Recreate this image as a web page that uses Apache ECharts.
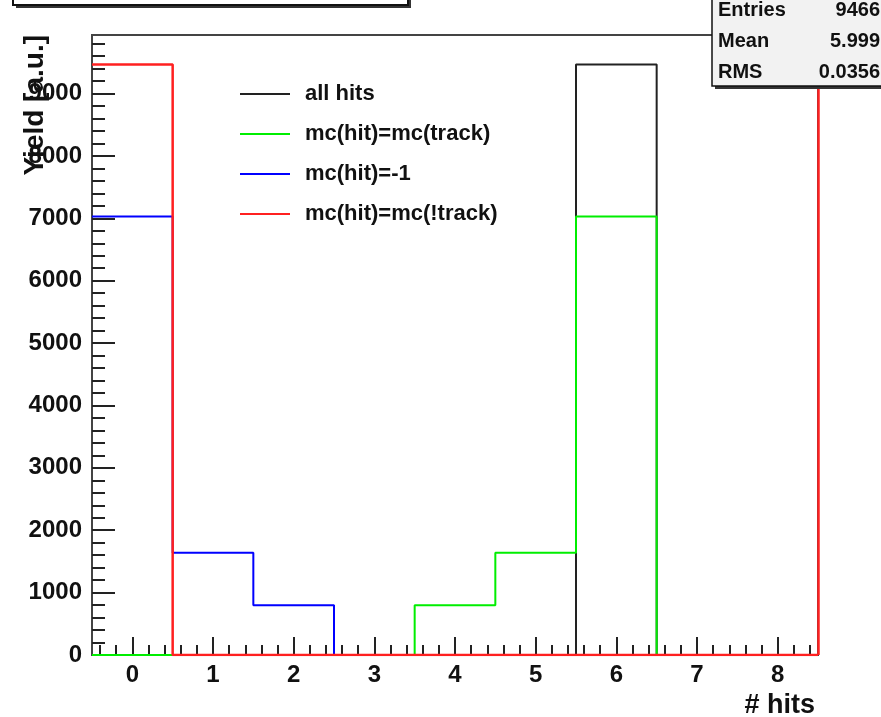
<!DOCTYPE html>
<html>
<head>
<meta charset="utf-8">
<script src="https://cdn.jsdelivr.net/npm/echarts@6/dist/echarts.min.js"></script>
<style>
html,body{margin:0;padding:0;background:#fff;}
#chart{width:881px;height:717px;}
</style>
</head>
<body>
<div id="chart"></div>
<script>
// ---- data ----
var binCenters = [0, 1, 2, 3, 4, 5, 6, 7, 8];
var allHits = [0, 0, 0, 0, 0, 0, 9466, 0, 0];
var mcTrack = [0, 0, 0, 0, 796, 1640, 7030, 0, 0];
var mcMinus1 = [7030, 1640, 796, 0, 0, 0, 0, 0, 0];
var mcNotTrack = [9466, 0, 0, 0, 0, 0, 0, 0, 0];
var seriesNames = ['all hits', 'mc(hit)=mc(track)', 'mc(hit)=-1', 'mc(hit)=mc(!track)'];
var xTickLabels = [0, 1, 2, 3, 4, 5, 6, 7, 8];
var yTickLabels = [0, 1000, 2000, 3000, 4000, 5000, 6000, 7000, 8000, 9000];
var statsLabels = ['Entries', 'Mean', 'RMS'];
var statsValues = ['9466', '5.999', '0.0356'];

var X_MIN = -0.5, X_MAX = 8.5, Y_MAX = 9939;
var FONT = '"Liberation Sans", Arial, Helvetica, sans-serif';

function stepPoints(vals) {
  var pts = [];
  for (var i = 0; i < vals.length; i++) {
    var lo = binCenters[i] - 0.5, hi = binCenters[i] + 0.5;
    pts.push([lo, vals[i]]);
    pts.push([hi, vals[i]]);
  }
  return pts;
}
var xMinor = [];
for (var k = -2; k <= 42; k++) { if (k % 5 !== 0) xMinor.push(+(k * 0.2).toFixed(2)); }
var yMinor = [];
for (var m = 1; m * 200 < Y_MAX; m++) { if (m % 5 !== 0) yMinor.push(m * 200); }

var colors = ['#222222', '#00ee00', '#0000ff', '#ff2020'];
var widths = [2, 2, 2, 2.5];
var datasets = [allHits, mcTrack, mcMinus1, mcNotTrack];

var series = datasets.map(function (d, i) {
  var s = {
    name: seriesNames[i], type: 'line', data: stepPoints(d),
    xAxisIndex: 0, yAxisIndex: 0,
    showSymbol: false, symbol: 'none', animation: false, silent: true,
    lineStyle: { color: colors[i], width: widths[i] }, itemStyle: { color: colors[i] },
    z: 3 + i
  };
  if (i === 3) {
    s.markLine = {
      symbol: 'none', silent: true, animation: false, label: { show: false },
      lineStyle: { color: colors[i], width: 2.5, type: 'solid' },
      data: [[{ coord: [X_MAX, 0] }, { coord: [X_MAX, Y_MAX] }]]
    };
  }
  return s;
});

var chart = echarts.init(document.getElementById('chart'), null, { renderer: 'canvas' });
var lblStyle = { color: '#111', fontFamily: FONT, fontWeight: 'bold', fontSize: 24,
  formatter: function (v) { return String(v); } };
chart.setOption({
  animation: false,
  backgroundColor: '#ffffff',
  grid: { left: 92, right: 63, top: 35, bottom: 62, show: true, borderColor: '#444', borderWidth: 2, containLabel: false },
  legend: {
    data: seriesNames, orient: 'vertical', left: 235, top: 78,
    icon: 'rect', itemWidth: 50, itemHeight: 2, itemGap: 18,
    selectedMode: false,
    textStyle: { color: '#111', fontFamily: FONT, fontWeight: 'bold', fontSize: 22, padding: [0, 0, 0, 10] }
  },
  xAxis: [{
    type: 'value', min: X_MIN, max: X_MAX, position: 'bottom',
    axisLine: { show: true, onZero: false, lineStyle: { color: '#444', width: 2 } },
    axisTick: { show: true, inside: true, length: 18, customValues: xTickLabels, lineStyle: { color: '#222', width: 2 } },
    axisLabel: Object.assign({ customValues: xTickLabels, margin: 8 }, lblStyle),
    splitLine: { show: false }
  }, {
    type: 'value', min: X_MIN, max: X_MAX, position: 'bottom', offset: 0,
    axisLine: { show: false, onZero: false },
    axisTick: { show: true, inside: true, length: 10, customValues: xMinor, lineStyle: { color: '#222', width: 2 } },
    axisLabel: { show: false }, splitLine: { show: false }
  }],
  yAxis: [{
    type: 'value', min: 0, max: Y_MAX, position: 'left',
    axisLine: { show: true, onZero: false, lineStyle: { color: '#444', width: 2 } },
    axisTick: { show: true, inside: true, length: 23, customValues: yTickLabels, lineStyle: { color: '#222', width: 2 } },
    axisLabel: Object.assign({ customValues: yTickLabels, margin: 10 }, lblStyle),
    splitLine: { show: false }
  }, {
    type: 'value', min: 0, max: Y_MAX, position: 'left', offset: 0,
    axisLine: { show: false, onZero: false },
    axisTick: { show: true, inside: true, length: 13, customValues: yMinor, lineStyle: { color: '#222', width: 2 } },
    axisLabel: { show: false }, splitLine: { show: false }
  }],
  series: series,
  graphic: [
    // title box (mostly off-canvas)
    { type: 'rect', shape: { x: 16, y: -40, width: 395, height: 48 }, style: { fill: '#333' }, z: 20 },
    { type: 'rect', shape: { x: 13, y: -40, width: 395, height: 45 }, style: { fill: '#fff', stroke: '#111', lineWidth: 2 }, z: 21 },
    // stats box
    { type: 'rect', shape: { x: 715, y: -20, width: 200, height: 109 }, style: { fill: '#333' }, z: 20 },
    { type: 'rect', shape: { x: 712, y: -20, width: 200, height: 106 }, style: { fill: '#f2f2f2', stroke: '#111', lineWidth: 1.5 }, z: 21 }
  ].concat(statsLabels.map(function (t, i) {
    return { type: 'text', x: 718, y: 10 + i * 31, z: 22,
      style: { text: t, fill: '#111', font: 'bold 20px ' + FONT, textAlign: 'left', textVerticalAlign: 'middle' } };
  })).concat(statsValues.map(function (t, i) {
    return { type: 'text', x: 880, y: 10 + i * 31, z: 22,
      style: { text: t, fill: '#111', font: 'bold 20px ' + FONT, textAlign: 'right', textVerticalAlign: 'middle' } };
  })).concat([
    { type: 'text', x: 35, y: 35, rotation: Math.PI / 2, z: 22,
      style: { text: 'Yield [a.u.]', fill: '#111', font: 'bold 28px ' + FONT, textAlign: 'right', textVerticalAlign: 'middle' } },
    { type: 'text', x: 815, y: 706, z: 22,
      style: { text: '# hits', fill: '#111', font: 'bold 27px ' + FONT, textAlign: 'right', textVerticalAlign: 'middle' } }
  ])
});
</script>
</body>
</html>
